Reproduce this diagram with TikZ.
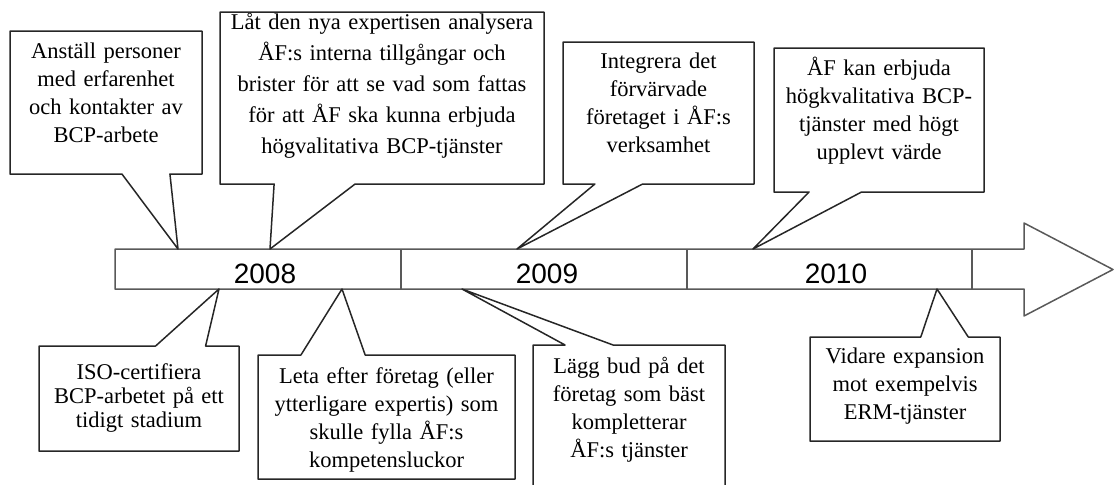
\documentclass[tikz,border=0pt]{standalone}
\usepackage{fontspec}
\setmainfont{Liberation Serif}
\newfontfamily\yearfont{Liberation Sans}
\usetikzlibrary{calc}

\newcommand{\notefont}{\fontsize{11.25}{14}\selectfont}

% outline of a callout: node, side with the pointer, opposite side,
% start and end of the pointer base along that side, pointer tip
\newcommand{\bubble}[6]{%
  \draw[bubbleline] (#1.#3 west) -- (#1.#3 east) -- (#1.#2 east)
    -- ($(#1.#2 west)!#5!(#1.#2 east)$) -- (#6)
    -- ($(#1.#2 west)!#4!(#1.#2 east)$) -- (#1.#2 west) -- cycle;}

\tikzset{
  note/.style={anchor=north, align=center, inner sep=0pt, outer sep=0pt, font=\notefont},
  bubbleline/.style={draw=black!85, line width=0.75pt, line join=round},
  timeline/.style={draw=black!65, line width=0.75pt, line join=round},
  year/.style={font=\yearfont\fontsize{14}{16}\selectfont},
}

\begin{document}
\begin{tikzpicture}[x=0.5pt, y=-0.5pt]
  \useasboundingbox (0,0) rectangle (1114,484);

  % the time axis
  \draw[timeline] (115,249) -- (1024,249) -- (1024,223) -- (1113,269.5)
    -- (1024,316) -- (1024,289) -- (115,289) -- cycle;
  \foreach \x in {401,687,972}
    \draw[timeline] (\x,249) -- (\x,289);
  \node[year] (y2008) at (265,274) {2008};
  \node[year] (y2009) at (547,274) {2009};
  \node[year] (y2010) at (836,274) {2010};

  % where the pointers touch the axis
  \coordinate (p1) at (178,249);
  \coordinate (p2) at (270,249);
  \coordinate (p3) at (517,249);
  \coordinate (p4) at (753,249);
  \coordinate (p5) at (219,289);
  \coordinate (p6) at (342,289);
  \coordinate (p7) at (462,289);
  \coordinate (p8) at (937,289);

  % above the axis
  \node[note, text width=96pt, text height=13.5pt, text depth=58pt] (anstall) at (106,31)
    {Anställ personer\\med erfarenhet\\och kontakter av\\BCP-arbete};
  \node[note, text width=162pt, text height=8.5pt, text depth=77.5pt,
        font=\fontsize{11.25}{15.5}\selectfont] (latden) at (382,12)
    {Låt den nya expertisen analysera\\ÅF:s interna tillgångar och\\brister för att se vad som fattas\\för att ÅF ska kunna erbjuda\\högvalitativa BCP-tjänster};
  \node[note, text width=95.5pt, text height=13pt, text depth=58pt] (integrera) at (658.5,42)
    {Integrera det\\förvärvade\\företaget i ÅF:s\\verksamhet};
  \node[note, text width=105pt, text height=13.5pt, text depth=58.5pt] (afkan) at (879,48)
    {ÅF kan erbjuda\\högkvalitativa BCP-\\tjänster med högt\\upplevt värde};

  % below the axis
  \node[note, text width=100pt, text height=16.5pt, text depth=36pt,
        font=\fontsize{11.25}{12}\selectfont] (iso) at (139,346)
    {ISO-certifiera\\BCP-arbetet på ett\\tidigt stadium};
  \node[note, text width=128.5pt, text height=14pt, text depth=48pt] (leta) at (386.5,355)
    {Leta efter företag (eller\\ytterligare expertis) som\\skulle fylla ÅF:s\\kompetensluckor};
  \node[note, text width=96pt, text height=14pt, text depth=64pt] (lagg) at (629,345)
    {Lägg bud på det\\företag som bäst\\kompletterar\\ÅF:s tjänster};
  \node[note, text width=95pt, text height=13pt, text depth=39pt] (vidare) at (905,337)
    {Vidare expansion\\mot exempelvis\\ERM-tjänster};

  \bubble{anstall}{south}{north}{0.583}{0.833}{p1}
  \bubble{latden}{south}{north}{0.167}{0.417}{p2}
  \bubble{integrera}{south}{north}{0.167}{0.417}{p3}
  \bubble{afkan}{south}{north}{0.167}{0.417}{p4}
  \bubble{iso}{north}{south}{0.583}{0.833}{p5}
  \bubble{leta}{north}{south}{0.167}{0.417}{p6}
  \bubble{lagg}{north}{south}{0.167}{0.417}{p7}
  \bubble{vidare}{north}{south}{0.583}{0.833}{p8}
\end{tikzpicture}
\end{document}
